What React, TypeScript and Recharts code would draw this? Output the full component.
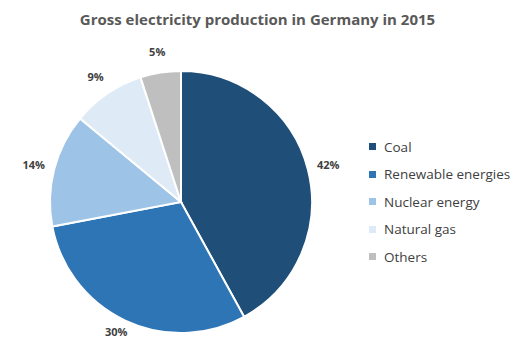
import { PieChart, Pie, Cell } from "recharts"

const sources = ["Coal", "Renewable energies", "Nuclear energy", "Natural gas", "Others"]
const shares = [42, 30, 14, 9, 5]
const colors = ["#1F4E79", "#2E75B6", "#9DC3E6", "#DEEBF7", "#BFBFBF"]

const data = sources.map((name, i) => ({ name, value: shares[i] }))

const RAD = Math.PI / 180

function renderLabel(props: any) {
  const { cx, cy, midAngle, outerRadius, value } = props
  const r = outerRadius + 21
  const x = cx + r * Math.cos(-midAngle * RAD)
  // the bottom label sits at the page edge, keep it inside
  const y = Math.min(cy + r * Math.sin(-midAngle * RAD), 331)
  return (
    <text
      x={x}
      y={y}
      textAnchor="middle"
      dominantBaseline="central"
      fill="#404040"
      fontSize={11}
      fontWeight="bold"
      fontFamily="'Open Sans', sans-serif"
    >
      {value}%
    </text>
  )
}

export default function App() {
  return (
    <div style={{ position: "fixed", left: 0, top: 0, width: 515, height: 338, background: "#fff", fontFamily: "'Open Sans', sans-serif" }}>
      <div
        style={{
          position: "absolute",
          top: 9,
          left: 0,
          width: 515,
          textAlign: "center",
          fontSize: 15,
          fontWeight: "bold",
          color: "#595959",
        }}
      >
        Gross electricity production in Germany in 2015
      </div>
      <PieChart width={515} height={338} margin={{ top: 0, right: 0, bottom: 0, left: 0 }}>
        <Pie
          data={data}
          dataKey="value"
          nameKey="name"
          cx={181}
          cy={202}
          outerRadius={131}
          startAngle={90}
          endAngle={-270}
          stroke="#fff"
          strokeWidth={2}
          label={renderLabel}
          labelLine={false}
          isAnimationActive={false}
        >
          {data.map((d, i) => (
            <Cell key={d.name} fill={colors[i]} />
          ))}
        </Pie>
      </PieChart>
      <div style={{ position: "absolute", left: 369, top: 133 }}>
        {data.map((d, i) => (
          <div key={d.name} style={{ display: "flex", alignItems: "center", height: 27.5, fontSize: 13.5, color: "#404040" }}>
            <span style={{ width: 7, height: 7, background: colors[i], marginRight: 8, display: "inline-block" }} />
            {d.name}
          </div>
        ))}
      </div>
    </div>
  )
}
